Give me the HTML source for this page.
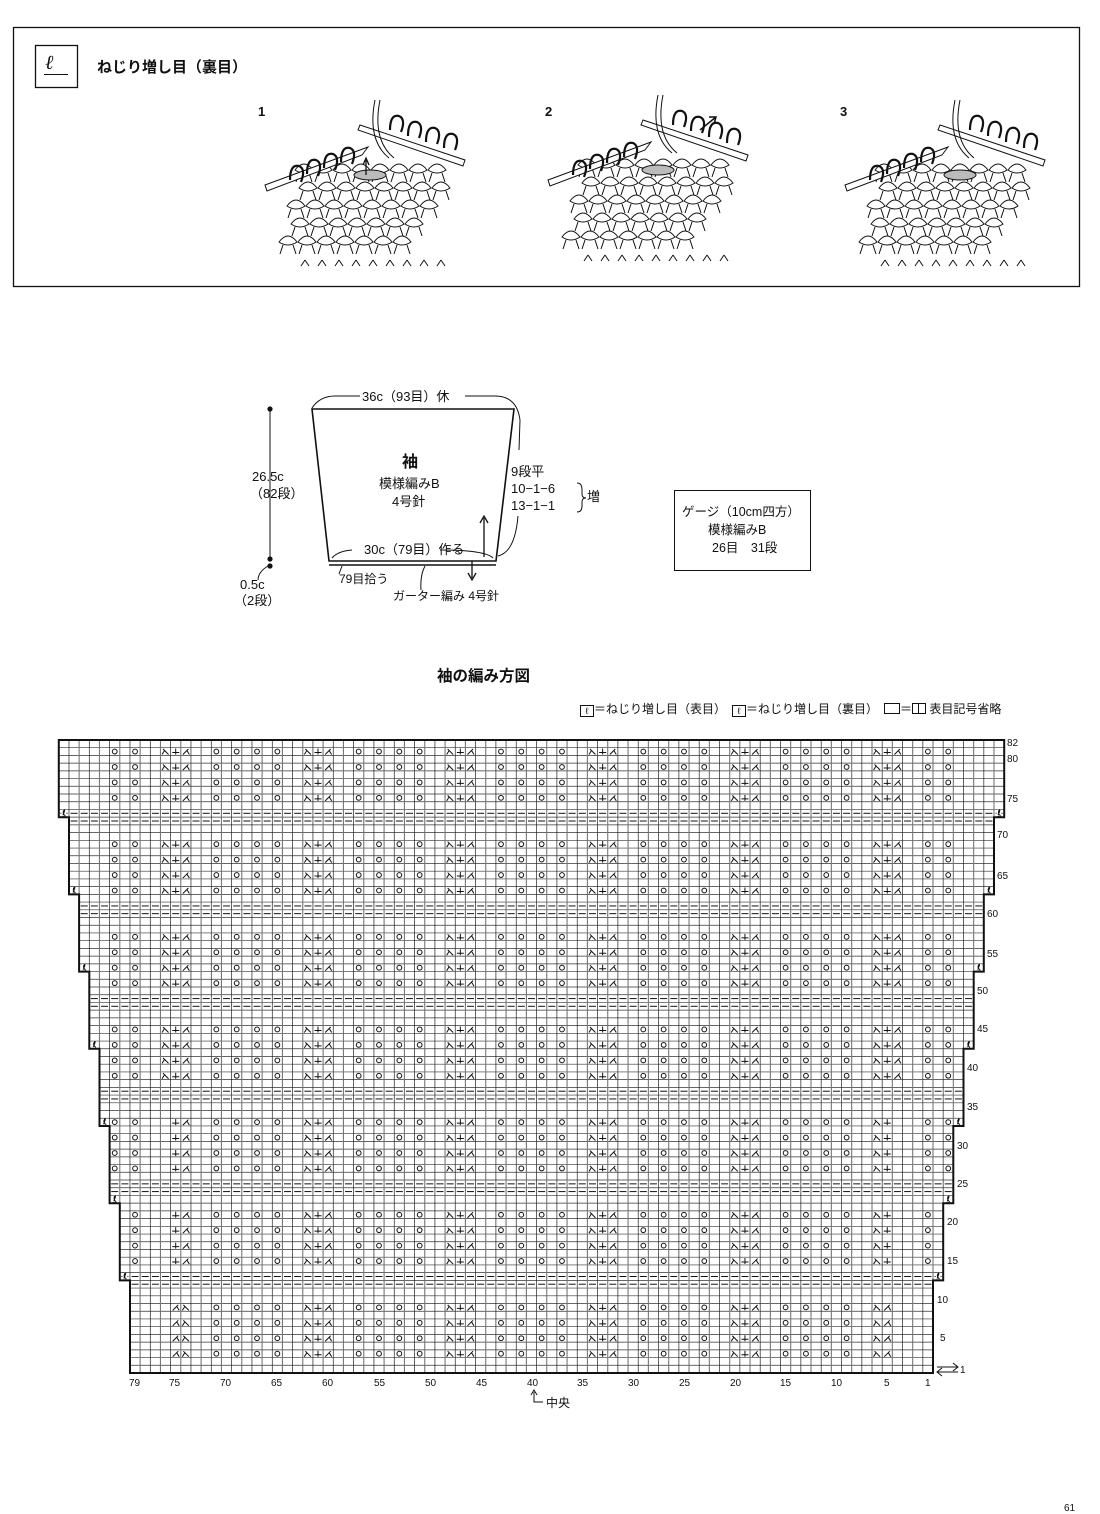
<!DOCTYPE html>
<html><head><meta charset="utf-8">
<style>
html,body{margin:0;padding:0;background:#fff;}
body{width:1100px;height:1514px;position:relative;overflow:hidden;font-family:"Liberation Sans","Noto Sans CJK JP",sans-serif;color:#111;}
.t{position:absolute;white-space:nowrap;line-height:1;}
</style></head><body>
<svg id="s" width="1100" height="1514" style="position:absolute;left:0;top:0" xmlns="http://www.w3.org/2000/svg">
<rect x="13.5" y="27.5" width="1066" height="259" fill="none" stroke="#111" stroke-width="1.3"/>
<rect x="35.5" y="45.5" width="42" height="42" fill="none" stroke="#111" stroke-width="1.3"/>
<polygon points="312,409 514,409 496,561 329,561" fill="none" stroke="#111" stroke-width="1.6"/>
<line x1="329" y1="565" x2="496" y2="565" stroke="#111" stroke-width="1.5"/>
<line x1="270" y1="409" x2="270" y2="560" stroke="#111" stroke-width="1"/>
<circle cx="270" cy="409" r="2.6" fill="#111"/><circle cx="270" cy="559" r="2.6" fill="#111"/><circle cx="270" cy="566" r="2.6" fill="#111"/>
<path d="M312,408 Q320,396 335,396 L360,396 M465,396 L495,396 Q517,396 520,420 L519,450" fill="none" stroke="#111" stroke-width="1"/>
<path d="M518,516 Q515,552 498,556" fill="none" stroke="#111" stroke-width="1"/>
<path d="M332,558 Q338,551 352,550 M440,550 Q485,550 493,558" fill="none" stroke="#111" stroke-width="1"/>
<path d="M268,566 Q258,572 258,580" fill="none" stroke="#111" stroke-width="1"/>
<path d="M342,566 L339,574 M425,566 Q420,575 421,590" fill="none" stroke="#111" stroke-width="1"/>
<line x1="484" y1="557" x2="484" y2="518" stroke="#111" stroke-width="1.3"/><path d="M480,523 L484,516 L488,523" fill="none" stroke="#111" stroke-width="1.3"/>
<line x1="472" y1="561" x2="472" y2="578" stroke="#111" stroke-width="1.3"/><path d="M468,573 L472,580 L476,573" fill="none" stroke="#111" stroke-width="1.3"/>
<path d="M577,483 Q582,483 582,490 L582,494 Q582,498 586,498 Q582,498 582,502 L582,506 Q582,512 577,512" fill="none" stroke="#111" stroke-width="1"/>
<rect x="674.5" y="490.5" width="136" height="80" fill="none" stroke="#111" stroke-width="1"/>
<g id="chart"></g>
<g id="illu" stroke="#111" stroke-width="1" fill="#fff"></g>
</svg>

<div class="t" style="left:45px;top:53px;font-size:20px;font-family:'Liberation Serif',serif;font-style:italic;">&#8467;</div>
<div class="t" style="left:44px;top:74px;width:24px;border-top:1.5px solid #111;"></div>
<div class="t" style="left:97px;top:60px;font-size:15px;font-weight:bold;">ねじり増し目（裏目）</div>
<div class="t" style="left:258px;top:105px;font-size:13px;font-weight:bold;">1</div>
<div class="t" style="left:545px;top:105px;font-size:13px;font-weight:bold;">2</div>
<div class="t" style="left:840px;top:105px;font-size:13px;font-weight:bold;">3</div>

<div class="t" style="left:362px;top:390px;font-size:13px;">36c（93目）休</div>
<div class="t" style="left:252px;top:470px;font-size:13px;">26.5c</div>
<div class="t" style="left:250px;top:487px;font-size:13px;">（82段）</div>
<div class="t" style="left:240px;top:578px;font-size:13px;">0.5c</div>
<div class="t" style="left:234px;top:594px;font-size:13px;">（2段）</div>
<div class="t" style="left:402px;top:455px;font-size:16px;font-weight:bold;">袖</div>
<div class="t" style="left:379px;top:477px;font-size:13px;">模様編みB</div>
<div class="t" style="left:392px;top:495px;font-size:13px;">4号針</div>
<div class="t" style="left:511px;top:465px;font-size:13px;">9段平</div>
<div class="t" style="left:511px;top:482px;font-size:13px;">10−1−6</div>
<div class="t" style="left:511px;top:499px;font-size:13px;">13−1−1</div>
<div class="t" style="left:587px;top:490px;font-size:13px;">増</div>
<div class="t" style="left:364px;top:543px;font-size:13px;">30c（79目）作る</div>
<div class="t" style="left:339px;top:573px;font-size:12px;">79目拾う</div>
<div class="t" style="left:393px;top:590px;font-size:12px;">ガーター編み 4号針</div>
<div class="t" style="left:682px;top:506px;font-size:12.5px;">ゲージ（10cm四方）</div>
<div class="t" style="left:708px;top:524px;font-size:12.5px;">模様編みB</div>
<div class="t" style="left:712px;top:542px;font-size:12.5px;">26目　31段</div>

<div class="t" style="left:437px;top:669px;font-size:15.5px;font-weight:bold;">袖の編み方図</div>
<div class="t" style="left:580px;top:703px;font-size:12px;"><span style="display:inline-block;border:1px solid #111;width:12px;height:10px;font-size:9px;text-align:center;line-height:10px;vertical-align:-1px">ℓ</span>＝ねじり増し目（表目）　<span style="display:inline-block;border:1px solid #111;width:12px;height:10px;font-size:9px;text-align:center;line-height:10px;vertical-align:-1px">ℓ</span>＝ねじり増し目（裏目）　<span style="display:inline-block;border:1px solid #111;width:14px;height:9px;vertical-align:-1px"></span>＝<span style="display:inline-block;border:1px solid #111;width:12px;height:9px;vertical-align:-1px;background:linear-gradient(90deg,transparent 5px,#111 5px,#111 6px,transparent 6px)"></span> 表目記号省略</div>

<div class="t" style="left:546px;top:1397px;font-size:12px;">中央</div>
<div class="t" style="left:1064px;top:1504px;font-size:10px;">61</div>

<script>
(function(){
var g=document.getElementById('chart');
var html='';
var cw=10.165, rh=7.72, RX=933, BY=1373;
var steps=[13,23,33,43,53,63,73];
function k(r){var c=0;for(var i=0;i<steps.length;i++)if(r>=steps[i])c++;return c;}
function xl(n){return RX-n*cw;}
function yt(r){return BY-r*rh;}
for(var r=1;r<=82;r++){
  var kk=k(r), a=1-kk, b=79+kk;
  var x1=xl(b), x2=xl(a-1), y=yt(r);
  html+='<line x1="'+x1+'" y1="'+y+'" x2="'+x2+'" y2="'+y+'" stroke="#333" stroke-width="0.7"/>';
  for(var n=a;n<b;n++){var x=xl(n);html+='<line x1="'+x+'" y1="'+y+'" x2="'+x+'" y2="'+(y+rh)+'" stroke="'+(n%2?'#222':'#777')+'" stroke-width="'+(n%2?0.7:1.1)+'"/>';}
}
var left=[],right=[];
for(var r=82;r>=1;r--){var kk=k(r);right.push([xl(-kk),yt(r)],[xl(-kk),yt(r-1)]);left.push([xl(79+kk),yt(r)],[xl(79+kk),yt(r-1)]);}
var p=right.concat(left.reverse());
html+='<polygon points="'+p.map(function(q){return q[0].toFixed(1)+','+q[1].toFixed(1)}).join(' ')+'" fill="none" stroke="#111" stroke-width="2"/>';
function mod(a,m){return ((a%m)+m)%m;}
function armL(cx,cy){return '<path d="M'+(cx+2.5)+','+(cy-2.5)+' L'+(cx-3)+','+(cy+3)+' M'+(cx+1)+','+(cy-1)+' L'+(cx+3.5)+','+(cy+3)+'" fill="none" stroke="#111" stroke-width="1"/>';}
function armR(cx,cy){return '<path d="M'+(cx-2.5)+','+(cy-2.5)+' L'+(cx+3)+','+(cy+3)+' M'+(cx-1)+','+(cy-1)+' L'+(cx-3.5)+','+(cy+3)+'" fill="none" stroke="#111" stroke-width="1"/>';}
function plus(cx,cy){return '<path d="M'+cx+','+(cy-3)+' L'+cx+','+(cy+3)+' M'+(cx-3.5)+','+(cy+1)+' L'+(cx+3.5)+','+(cy+1)+'" fill="none" stroke="#111" stroke-width="1"/>';}
for(var r=1;r<=82;r++){
  var kk=k(r), a=1-kk, b=79+kk, cy=yt(r)+rh/2;
  var dash=(mod(r,12)==0||mod(r,12)==1)&&r>=12&&r<=73;
  var sym=(r%2==1)&&!dash&&[3,5,7,9].indexOf(mod(r,12))>=0;
  for(var n=a;n<=b;n++){
    var cx=xl(n)+cw/2;
    if(dash){html+='<line x1="'+(cx-3.5)+'" y1="'+cy+'" x2="'+(cx+3.5)+'" y2="'+cy+'" stroke="#111" stroke-width="1"/>';continue;}
    if(!sym)continue;
    var m=mod(n,14);
    if((m==9||m==11||m==13||m==1)&&n>=-1&&n<=81){
      if((n==1||n==79)&&r<12)continue;
      html+='<circle cx="'+cx+'" cy="'+cy+'" r="2.4" fill="none" stroke="#111" stroke-width="1"/>';
    }
    var part=-9;
    if(m==4)part=1; if(m==5)part=0; if(m==6)part=-1;
    if(part!==-9){
      var center=n+part; if(center<5||center>75)continue;
      var edge=(center==5||center==75);
      if(edge&&r<12){
        if(center==75){ if(part==-1)continue; if(part==0){html+=armL(cx,cy);continue;} if(part==1)continue; }
        if(center==5){ if(part==1)continue; if(part==0){html+=armL(cx,cy);continue;} if(part==-1){html+=armR(cx,cy);continue;} }
      }
      if(edge&&r<12&&center==75&&part==-1){}
      if(edge&&r>=12&&r<37&&((center==5&&part==1)||(center==75&&part==-1)))continue;
      if(part==-1)html+=armR(cx,cy); else if(part==1)html+=armL(cx,cy); else html+=plus(cx,cy);
    }
  }
  // fix for center 75 in bottom rows: add right arm at 74
  if(sym&&r<12){var cx74=xl(74)+cw/2;html+=armR(cx74,cy);}
}
for(var i=0;i<steps.length;i++){
  var r=steps[i],kk=i+1,cy=yt(r)+rh/2;
  [1-kk,79+kk].forEach(function(n){var cx=xl(n)+cw/2;html+='<rect x="'+(cx-2.5)+'" y="'+(cy-3.5)+'" width="5" height="7" fill="#fff"/><path d="M'+(cx-1)+','+(cy+2)+' Q'+(cx+2)+','+(cy-5)+' '+(cx)+','+(cy-3)+' Q'+(cx-2)+','+(cy)+' '+(cx+1.5)+','+(cy+2.5)+'" fill="none" stroke="#111" stroke-width="1"/><line x1="'+(cx-2.5)+'" y1="'+(cy+3.3)+'" x2="'+(cx+2.5)+'" y2="'+(cy+3.3)+'" stroke="#111" stroke-width="1"/>';});
}
html+='<path d="M937,1367 L958,1367 M953,1363 L958,1367 L953,1371 M937,1372 L958,1372 M942,1368 L937,1372 L942,1376" fill="none" stroke="#111" stroke-width="1"/>';
html+='<path d="M534,1392 L534,1402 L543,1402 M531,1395 L534,1390 L537,1395" fill="none" stroke="#111" stroke-width="1"/>';
g.innerHTML=html;

var il='';
function knit(ox,oy,variant){
  for(var row=0;row<5;row++){
    var y=oy+70+row*18, x0=ox+30-row*4+(row%2)*8;
    var cnt=8-(row>2?1:0);
    for(var j=0;j<cnt;j++){
      var x=x0+j*19;
      il+='<path d="M'+x+','+y+' q9,-12 18,0 q-9,6 -18,0z" fill="#fff"/>';
      il+='<path d="M'+(x+4)+','+(y+3)+' l-3,9 M'+(x+14)+','+(y+3)+' l3,9" fill="none"/>';
    }
  }
  for(var j=0;j<9;j++){var x=ox+40+j*17;il+='<path d="M'+x+','+(oy+160)+' l-4,6 M'+x+','+(oy+160)+' l4,6" fill="none"/>';}
  il+='<path d="M'+ox+','+(oy+85)+' L'+(ox+95)+','+(oy+50)+' l8,-3 l-6,8 L'+(ox+2)+','+(oy+91)+'z" fill="#fff"/>';
  for(var j=0;j<4;j++){var x=ox+25+j*17;il+='<path d="M'+x+','+(oy+80-j*6)+' q0,-16 9,-14 q7,3 2,16" fill="none" stroke-width="2.2"/>';}
  il+='<path d="M'+(ox+95)+','+(oy+25)+' L'+(ox+200)+','+(oy+60)+' l-2,6 L'+(ox+93)+','+(oy+30)+'z" fill="#fff"/>';
  for(var j=0;j<4;j++){var x=ox+125+j*18;il+='<path d="M'+x+','+(oy+30+j*6)+' q0,-16 9,-14 q7,3 2,16" fill="none" stroke-width="2.2"/>';}
  il+='<path d="M'+(ox+110)+','+(oy)+' q-8,40 14,58 M'+(ox+115)+','+(oy)+' q-8,40 14,58" fill="none"/>';
  il+='<ellipse cx="'+(ox+105+variant*5)+'" cy="'+(oy+75)+'" rx="16" ry="5" fill="#bbb"/>';
}
knit(265,100,0);
knit(548,95,1);
knit(845,100,2);
il+='<path d="M700,130 L716,117 M709,117 L716,117 L714,124" fill="none" stroke-width="1.5"/>';
il+='<path d="M366,175 L366,160 M363,165 L366,158 L369,165" fill="none" stroke-width="1.3"/>';
document.getElementById('illu').innerHTML=il;
})();
</script>

<div class="t" style="left:1007px;top:739px;font-size:10px;">82</div>
<div class="t" style="left:1007px;top:755px;font-size:10px;">80</div>
<div class="t" style="left:1007px;top:795px;font-size:10px;">75</div>
<div class="t" style="left:997px;top:831px;font-size:10px;">70</div>
<div class="t" style="left:997px;top:872px;font-size:10px;">65</div>
<div class="t" style="left:987px;top:910px;font-size:10px;">60</div>
<div class="t" style="left:987px;top:950px;font-size:10px;">55</div>
<div class="t" style="left:977px;top:987px;font-size:10px;">50</div>
<div class="t" style="left:977px;top:1025px;font-size:10px;">45</div>
<div class="t" style="left:967px;top:1064px;font-size:10px;">40</div>
<div class="t" style="left:967px;top:1103px;font-size:10px;">35</div>
<div class="t" style="left:957px;top:1142px;font-size:10px;">30</div>
<div class="t" style="left:957px;top:1180px;font-size:10px;">25</div>
<div class="t" style="left:947px;top:1218px;font-size:10px;">20</div>
<div class="t" style="left:947px;top:1257px;font-size:10px;">15</div>
<div class="t" style="left:937px;top:1296px;font-size:10px;">10</div>
<div class="t" style="left:940px;top:1334px;font-size:10px;">5</div>
<div class="t" style="left:960px;top:1366px;font-size:10px;">1</div>
<div class="t" style="left:129px;top:1379px;font-size:10px;">79</div>
<div class="t" style="left:169px;top:1379px;font-size:10px;">75</div>
<div class="t" style="left:220px;top:1379px;font-size:10px;">70</div>
<div class="t" style="left:271px;top:1379px;font-size:10px;">65</div>
<div class="t" style="left:322px;top:1379px;font-size:10px;">60</div>
<div class="t" style="left:374px;top:1379px;font-size:10px;">55</div>
<div class="t" style="left:425px;top:1379px;font-size:10px;">50</div>
<div class="t" style="left:476px;top:1379px;font-size:10px;">45</div>
<div class="t" style="left:527px;top:1379px;font-size:10px;">40</div>
<div class="t" style="left:577px;top:1379px;font-size:10px;">35</div>
<div class="t" style="left:628px;top:1379px;font-size:10px;">30</div>
<div class="t" style="left:679px;top:1379px;font-size:10px;">25</div>
<div class="t" style="left:730px;top:1379px;font-size:10px;">20</div>
<div class="t" style="left:780px;top:1379px;font-size:10px;">15</div>
<div class="t" style="left:831px;top:1379px;font-size:10px;">10</div>
<div class="t" style="left:884px;top:1379px;font-size:10px;">5</div>
<div class="t" style="left:925px;top:1379px;font-size:10px;">1</div>
</body></html>
